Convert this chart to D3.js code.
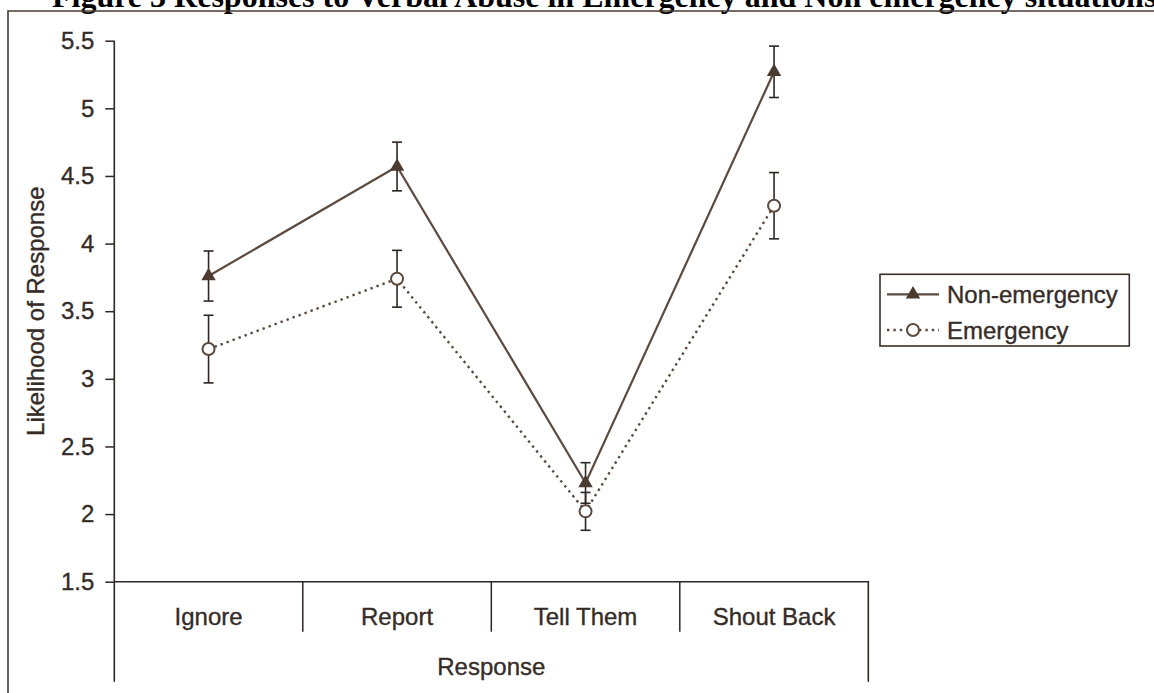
<!DOCTYPE html>
<html>
<head>
<meta charset="utf-8">
<script src="https://cdn.jsdelivr.net/npm/d3@7"></script>
<style>
  html, body { margin: 0; padding: 0; background: #fff; }
  svg { display: block; }
  .lbl { font-family: "Liberation Sans", Arial, sans-serif; font-size: 24px; fill: #362c27; stroke: #362c27; stroke-width: 0.35px; }
  .title { font-family: "Liberation Serif", "Times New Roman", serif; font-weight: bold; font-size: 32px; fill: #000; }
</style>
</head>
<body>
<svg id="chart" width="1154" height="693"></svg>
<script>
// Mean likelihood of each response, with error bar half-widths
const categories = ["Ignore", "Report", "Tell Them", "Shout Back"];
const nonEmergency = [3.76, 4.57, 2.23, 5.27];
const nonEmergencyErr = [0.185, 0.18, 0.15, 0.19];
const emergency = [3.22, 3.74, 2.02, 4.28];
const emergencyErr = [0.25, 0.21, 0.14, 0.245];
const yTicks = [1.5, 2, 2.5, 3, 3.5, 4, 4.5, 5, 5.5];
const seriesNames = ["Non-emergency", "Emergency"];

const titleText = "Figure 3 Responses to Verbal Abuse in Emergency and Non emergency situations";
const xTitle = "Response";
const yTitle = "Likelihood of Response";

const ink = "#2e2623";
const lineBrown = "#5c4a3e";
const markBrown = "#4a3a2f";

const svg = d3.select("#chart");

const plot = { left: 114.3, right: 868.3, top: 40.7, bottom: 581.7, floor: 681.7 };

const x = d3.scaleBand().domain(categories).range([plot.left, plot.right]).paddingInner(0).paddingOuter(0);
const y = d3.scaleLinear().domain([1.5, 5.5]).range([plot.bottom, plot.top]);
const cx = c => x(c) + x.bandwidth() / 2;

// Title, partly clipped by the top of the page
svg.append("text").attr("class", "title")
  .attr("x", 52).attr("y", 7)
  .text(titleText);

// Outer frame (top and left edges)
svg.append("path")
  .attr("d", `M8,${693} L8,11 L1154,11`)
  .attr("fill", "none").attr("stroke", "#4a3a33").attr("stroke-width", 1.6);

// Y axis
const yAxis = d3.axisLeft(y).tickValues(yTicks).tickSize(9).tickPadding(11)
  .tickFormat(d => d3.format("")(d));
const gy = svg.append("g").attr("transform", `translate(${plot.left},0)`).call(yAxis);
gy.select(".domain").remove();
gy.selectAll(".tick line").attr("stroke", ink).attr("stroke-width", 1.5);
gy.selectAll(".tick text").attr("class", "lbl").attr("fill", null).attr("font-size", null).attr("font-family", null);
svg.append("line")
  .attr("x1", plot.left).attr("x2", plot.left)
  .attr("y1", plot.top).attr("y2", plot.floor)
  .attr("stroke", ink).attr("stroke-width", 1.6);

// X axis with category boxes
svg.append("path")
  .attr("d", `M${plot.left},${plot.bottom} L${plot.right},${plot.bottom} L${plot.right},${plot.floor}`)
  .attr("fill", "none").attr("stroke", ink).attr("stroke-width", 1.6);
svg.append("g").selectAll("line")
  .data(categories.slice(1))
  .join("line")
  .attr("x1", d => x(d)).attr("x2", d => x(d))
  .attr("y1", plot.bottom).attr("y2", plot.bottom + 50)
  .attr("stroke", ink).attr("stroke-width", 1.5);
svg.append("g").selectAll("text")
  .data(categories)
  .join("text")
  .attr("class", "lbl")
  .attr("x", d => cx(d)).attr("y", plot.bottom + 43.5)
  .attr("text-anchor", "middle")
  .text(d => d);

// Axis titles
svg.append("text").attr("class", "lbl")
  .attr("x", (plot.left + plot.right) / 2).attr("y", plot.bottom + 93.5)
  .attr("text-anchor", "middle").text(xTitle);
svg.append("text").attr("class", "lbl")
  .attr("transform", `translate(43.5,${(plot.top + plot.bottom) / 2}) rotate(-90)`)
  .attr("text-anchor", "middle").text(yTitle);

// Series lines
const line = d3.line().x((d, i) => cx(categories[i])).y(d => y(d));
svg.append("path").datum(nonEmergency)
  .attr("d", line).attr("fill", "none")
  .attr("stroke", lineBrown).attr("stroke-width", 2.2);
svg.append("path").datum(emergency)
  .attr("d", line).attr("fill", "none")
  .attr("stroke", lineBrown).attr("stroke-width", 2.4)
  .attr("stroke-dasharray", "2.4,4");

// Error bars
function errorBars(vals, errs) {
  const g = svg.append("g").attr("stroke", ink).attr("stroke-width", 1.6);
  vals.forEach((v, i) => {
    const px = cx(categories[i]);
    const top = y(v + errs[i]), bot = y(v - errs[i]);
    g.append("line").attr("x1", px).attr("x2", px).attr("y1", top).attr("y2", bot);
    g.append("line").attr("x1", px - 5).attr("x2", px + 5).attr("y1", top).attr("y2", top);
    g.append("line").attr("x1", px - 5).attr("x2", px + 5).attr("y1", bot).attr("y2", bot);
  });
}
errorBars(nonEmergency, nonEmergencyErr);
errorBars(emergency, emergencyErr);

// Markers
const tri = d3.symbol().type(d3.symbolTriangle).size(90);
svg.append("g").selectAll("path")
  .data(nonEmergency)
  .join("path")
  .attr("d", tri)
  .attr("transform", (d, i) => `translate(${cx(categories[i])},${y(d)})`)
  .attr("fill", markBrown);
svg.append("g").selectAll("circle")
  .data(emergency)
  .join("circle")
  .attr("cx", (d, i) => cx(categories[i])).attr("cy", d => y(d)).attr("r", 6)
  .attr("fill", "#fff").attr("stroke", lineBrown).attr("stroke-width", 2);

// Legend
const lg = svg.append("g");
lg.append("rect")
  .attr("x", 880).attr("y", 274.3).attr("width", 249.3).attr("height", 71.7)
  .attr("fill", "#fff").attr("stroke", "#3a2e29").attr("stroke-width", 1.6);
const rows = [294.3, 330];
lg.append("line").attr("x1", 887).attr("x2", 939).attr("y1", rows[0]).attr("y2", rows[0])
  .attr("stroke", lineBrown).attr("stroke-width", 2.2);
lg.append("path").attr("d", tri).attr("transform", `translate(913,${rows[0]})`).attr("fill", markBrown);
lg.append("line").attr("x1", 887).attr("x2", 939).attr("y1", rows[1]).attr("y2", rows[1])
  .attr("stroke", lineBrown).attr("stroke-width", 2.4).attr("stroke-dasharray", "2.4,4");
lg.append("circle").attr("cx", 913).attr("cy", rows[1]).attr("r", 6)
  .attr("fill", "#fff").attr("stroke", lineBrown).attr("stroke-width", 2);
lg.selectAll("text.entry")
  .data(seriesNames)
  .join("text")
  .attr("class", "lbl entry")
  .attr("x", 947).attr("y", (d, i) => rows[i] + 8.5)
  .text(d => d);
</script>
</body>
</html>
